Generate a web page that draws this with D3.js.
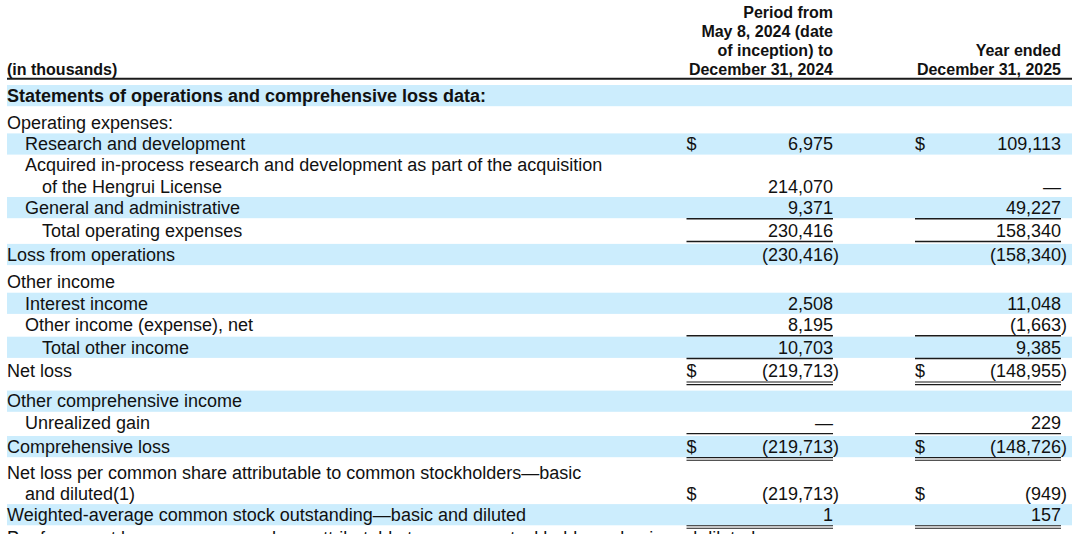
<!DOCTYPE html>
<html>
<head>
<meta charset="utf-8">
<script src="https://cdn.jsdelivr.net/npm/d3@7"></script>
<style>
html,body{margin:0;padding:0;background:#fff;}
svg{display:block;font-family:"Liberation Sans",Arial,Helvetica,sans-serif;}
</style>
</head>
<body>
<div id="chart"></div>
<script>
// ---------------- DATA ----------------
const unitsLabel = "(in thousands)";
const columnKeys = ["p2024", "y2025"];
const columnHeaders = [
  ["Period from", "May 8, 2024 (date", "of inception) to", "December 31, 2024"],
  ["Year ended", "December 31, 2025"]
];
const rowLabels = [
  ["Statements of operations and comprehensive loss data:"],
  ["Operating expenses:"],
  ["Research and development"],
  ["Acquired in-process research and development as part of the acquisition", "of the Hengrui License"],
  ["General and administrative"],
  ["Total operating expenses"],
  ["Loss from operations"],
  ["Other income"],
  ["Interest income"],
  ["Other income (expense), net"],
  ["Total other income"],
  ["Net loss"],
  ["Other comprehensive income"],
  ["Unrealized gain"],
  ["Comprehensive loss"],
  ["Net loss per common share attributable to common stockholders\u2014basic", "and diluted(1)"],
  ["Weighted-average common stock outstanding\u2014basic and diluted"],
  ["Pro forma net loss per common share attributable to common stockholders\u2014basic and diluted"]
];
// hierarchy level of each label line
const rowLevels = [[0],[0],[1],[1,2],[1],[2],[0],[0],[1],[1],[2],[0],[0],[1],[0],[0,1],[0],[0]];
// null = blank cell, 0 = shown as dash
const period2024 = [null, null, 6975, 214070, 9371, 230416, -230416, null, 2508, 8195, 10703, -219713, null, 0, -219713, -219713, 1, null];
const year2025   = [null, null, 109113, 0, 49227, 158340, -158340, null, 11048, -1663, 9385, -148955, null, 229, -148726, -949, 157, null];
const dollarRows = [2, 11, 14, 15];
const shadedRows = [0, 2, 4, 6, 8, 10, 12, 14, 16];
const boldRows = [0];
const singleRuleRows = [4, 5, 9, 10, 13];
const doubleRuleRows = [11, 14, 16];

// ---------------- LAYOUT ----------------
const W = 1080, H = 534;
const lineH = 21.2;
const firstTop = 85;
const gapBefore = [0, 6, 0, 0, 0, 1.5, 3, 6, 0.4, 0, 1.6, 2.5, 9, 0, 3, 4.5, 0, 2];
const left = 7, right = 1072;
const indentX = d3.scaleOrdinal().domain([0,1,2]).range([7, 25, 42]);
const colRight = d3.scaleOrdinal().domain(columnKeys).range([833, 1061]);
const colLeft = d3.scaleOrdinal().domain(columnKeys).range([686.5, 915]);
const bandColor = "#ccedfd";
const ink = "#111";
const ruleColor = "#1b1b1b";

const tops = [];
let yCur = firstTop;
rowLabels.forEach((lines, i) => {
  yCur += gapBefore[i];
  tops.push(yCur);
  yCur += lines.length * lineH;
});
const rowTop = d3.scaleOrdinal().domain(d3.range(rowLabels.length)).range(tops);
const rowBottom = i => rowTop(i) + rowLabels[i].length * lineH;
const baseline = (i, k) => rowTop(i) + k * lineH + 16.8;

const fmt = d3.format(",");

const svg = d3.select("#chart").append("svg")
  .attr("width", W).attr("height", H)
  .attr("viewBox", `0 0 ${W} ${H}`);
svg.append("rect").attr("width", W).attr("height", H).attr("fill", "#fff");

// header
const hdr = svg.append("g").attr("font-weight", "bold").attr("font-size", 16).attr("fill", ink);
hdr.append("text").attr("x", 7).attr("y", 74.5).text(unitsLabel);
const hdrPitch = 19;
columnKeys.forEach((key, c) => {
  const lines = columnHeaders[c];
  lines.forEach((t, k) => {
    hdr.append("text")
      .attr("x", colRight(key))
      .attr("y", 74.5 - (lines.length - 1 - k) * hdrPitch)
      .attr("text-anchor", "end")
      .text(t);
  });
});
svg.append("line")
  .attr("x1", left).attr("x2", right).attr("y1", 78.7).attr("y2", 78.7)
  .attr("stroke", ruleColor).attr("stroke-width", 2);

// bands
svg.append("g").selectAll("rect").data(shadedRows).join("rect")
  .attr("x", left).attr("width", right - left)
  .attr("y", i => rowTop(i))
  .attr("height", i => rowLabels[i].length * lineH)
  .attr("fill", bandColor);

// labels
const lab = svg.append("g").attr("font-size", 18).attr("fill", ink);
rowLabels.forEach((lines, i) => {
  lines.forEach((t, k) => {
    lab.append("text")
      .attr("x", indentX(rowLevels[i][k]))
      .attr("y", baseline(i, k))
      .attr("font-weight", boldRows.includes(i) ? "bold" : null)
      .text(t);
  });
});

// values
const valueCols = {p2024: period2024, y2025: year2025};
const vals = svg.append("g").attr("font-size", 18).attr("fill", ink);
columnKeys.forEach(key => {
  const arr = valueCols[key];
  arr.forEach((v, i) => {
    if (v === null) return;
    const y = baseline(i, rowLabels[i].length - 1);
    if (dollarRows.includes(i)) {
      vals.append("text").attr("x", colLeft(key)).attr("y", y).text("$");
    }
    let s;
    if (v === 0) s = "\u2014";
    else if (v < 0) s = "(" + fmt(-v);
    else s = fmt(v);
    vals.append("text").attr("x", colRight(key)).attr("y", y)
      .attr("text-anchor", "end").text(s);
    if (v < 0) {
      vals.append("text").attr("x", colRight(key)).attr("y", y).text(")");
    }
  });
});

// rules
const rules = svg.append("g").attr("stroke", ruleColor);
columnKeys.forEach(key => {
  singleRuleRows.forEach(i => {
    const y = rowBottom(i) + 0.6;
    rules.append("line").attr("x1", colLeft(key)).attr("x2", colRight(key))
      .attr("y1", y).attr("y2", y).attr("stroke-width", 1.4);
  });
  doubleRuleRows.forEach(i => {
    [0.4, 3.0].forEach(off => {
      const y = rowBottom(i) + off;
      rules.append("line").attr("x1", colLeft(key)).attr("x2", colRight(key))
        .attr("y1", y).attr("y2", y).attr("stroke-width", 1.1);
    });
  });
});
</script>
</body>
</html>
